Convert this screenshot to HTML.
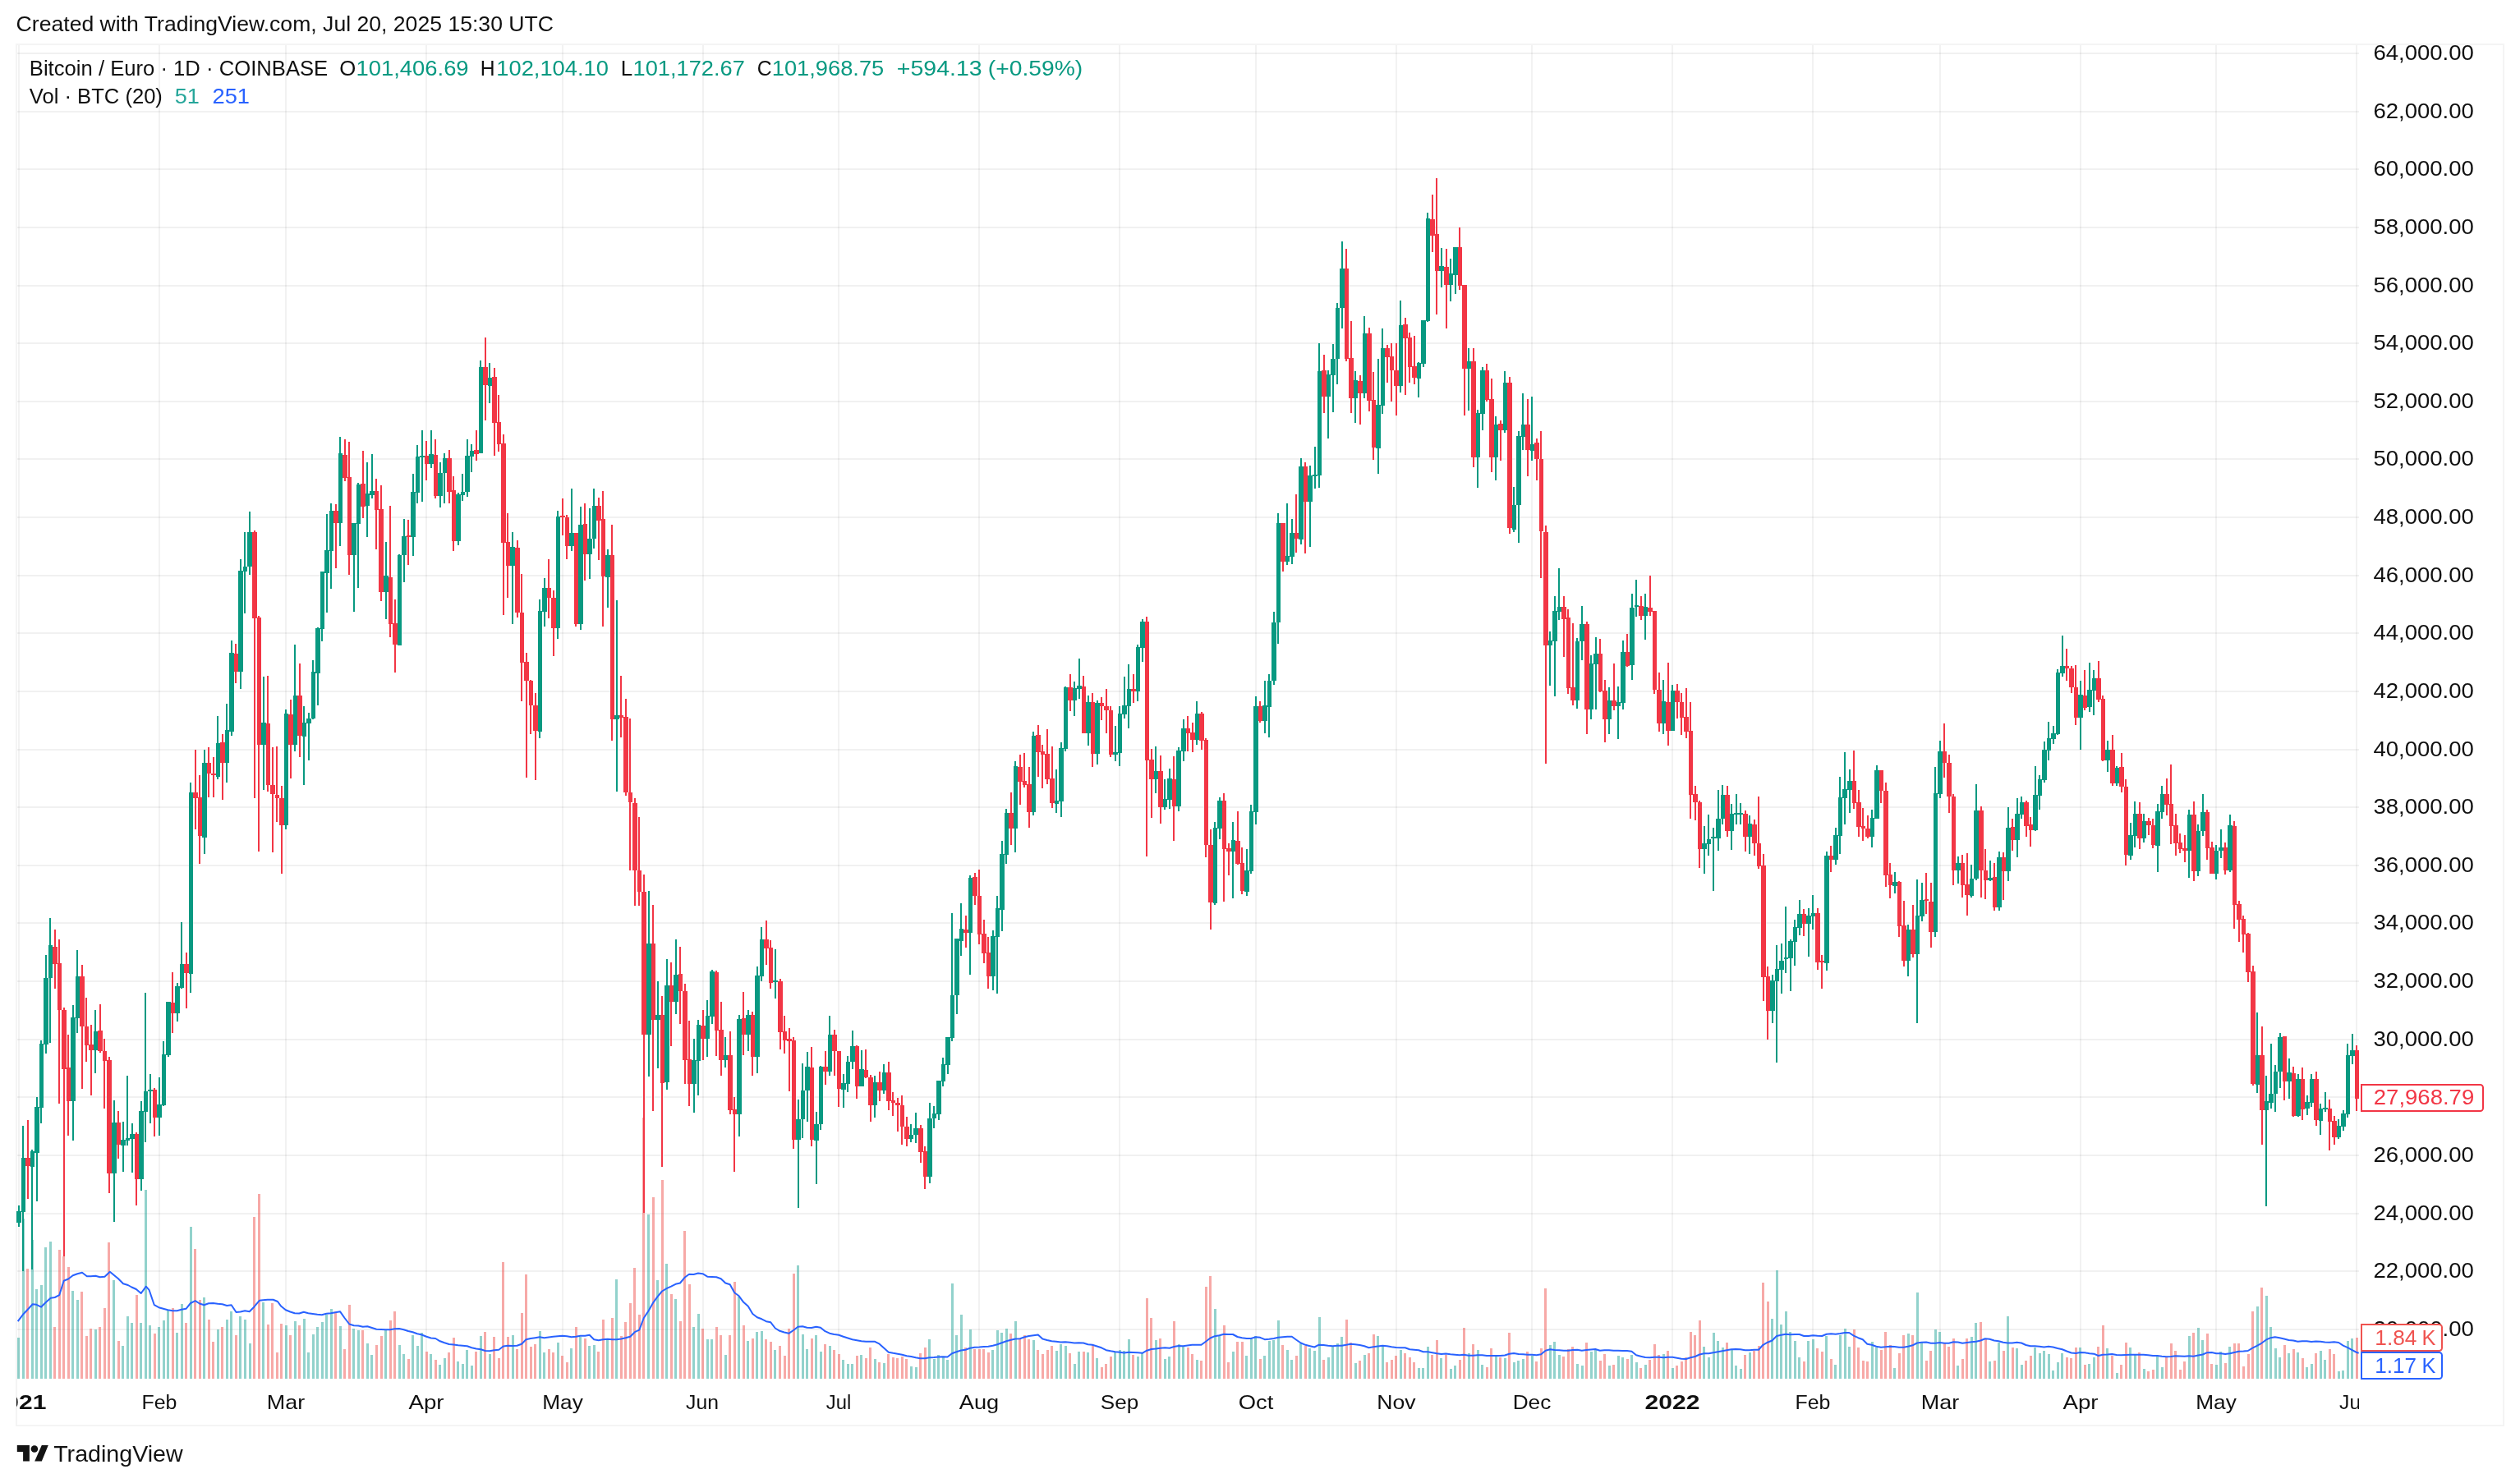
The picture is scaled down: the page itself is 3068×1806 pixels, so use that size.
<!DOCTYPE html>
<html><head><meta charset="utf-8"><title>BTCEUR chart</title><style>html,body{margin:0;padding:0;background:#fff;overflow:hidden}</style></head><body>
<svg width="3068" height="1806" viewBox="0 0 3068 1806" style="display:block;font-family:'Liberation Sans',sans-serif">
<rect width="3068" height="1806" fill="#fff"/>
<defs><clipPath id="cp"><rect x="20" y="54" width="2852" height="1625"/></clipPath><clipPath id="tp"><rect x="20" y="1679" width="2852" height="57"/></clipPath></defs>
<path d="M21 65H2872M21 136H2872M21 206H2872M21 277H2872M21 348H2872M21 418H2872M21 489H2872M21 559H2872M21 630H2872M21 701H2872M21 771H2872M21 842H2872M21 913H2872M21 983H2872M21 1054H2872M21 1124H2872M21 1195H2872M21 1266H2872M21 1336H2872M21 1407H2872M21 1478H2872M21 1548H2872M21 1619H2872" stroke="#000" stroke-opacity="0.056" stroke-width="2" fill="none"/>
<path d="M23 55V1679M194 55V1679M348 55V1679M519 55V1679M685 55V1679M856 55V1679M1021 55V1679M1192 55V1679M1363 55V1679M1529 55V1679M1700 55V1679M1865 55V1679M2036 55V1679M2207 55V1679M2362 55V1679M2533 55V1679M2698 55V1679M2869 55V1679" stroke="#000" stroke-opacity="0.052" stroke-width="2" fill="none"/>
<rect x="20" y="54" width="3028" height="1682" fill="none" stroke="#f4f4f4" stroke-width="2"/>
<g clip-path="url(#cp)">
<path d="M21 1629h3V1679h-3zM27 1484h3V1679h-3zM38 1510h3V1679h-3zM43 1570h3V1679h-3zM49 1565h3V1679h-3zM54 1519h3V1679h-3zM60 1512h3V1679h-3zM87 1572h3V1679h-3zM93 1583h3V1679h-3zM115 1619h3V1679h-3zM137 1559h3V1679h-3zM148 1639h3V1679h-3zM154 1603h3V1679h-3zM159 1611h3V1679h-3zM170 1611h3V1679h-3zM176 1449h3V1679h-3zM181 1614h3V1679h-3zM192 1616h3V1679h-3zM198 1608h3V1679h-3zM203 1596h3V1679h-3zM214 1623h3V1679h-3zM220 1588h3V1679h-3zM231 1494h3V1679h-3zM247 1580h3V1679h-3zM264 1619h3V1679h-3zM275 1607h3V1679h-3zM280 1597h3V1679h-3zM291 1603h3V1679h-3zM297 1607h3V1679h-3zM303 1636h3V1679h-3zM319 1586h3V1679h-3zM347 1614h3V1679h-3zM358 1609h3V1679h-3zM369 1606h3V1679h-3zM374 1647h3V1679h-3zM380 1625h3V1679h-3zM385 1616h3V1679h-3zM391 1610h3V1679h-3zM396 1601h3V1679h-3zM402 1594h3V1679h-3zM413 1615h3V1679h-3zM429 1618h3V1679h-3zM435 1620h3V1679h-3zM446 1636h3V1679h-3zM451 1650h3V1679h-3zM468 1620h3V1679h-3zM485 1638h3V1679h-3zM490 1649h3V1679h-3zM501 1626h3V1679h-3zM507 1639h3V1679h-3zM512 1623h3V1679h-3zM523 1649h3V1679h-3zM534 1662h3V1679h-3zM540 1654h3V1679h-3zM556 1658h3V1679h-3zM562 1661h3V1679h-3zM567 1644h3V1679h-3zM573 1663h3V1679h-3zM584 1627h3V1679h-3zM595 1649h3V1679h-3zM623 1626h3V1679h-3zM656 1621h3V1679h-3zM661 1647h3V1679h-3zM678 1635h3V1679h-3zM694 1642h3V1679h-3zM705 1628h3V1679h-3zM716 1639h3V1679h-3zM722 1638h3V1679h-3zM738 1630h3V1679h-3zM749 1558h3V1679h-3zM788 1479h3V1679h-3zM799 1559h3V1679h-3zM810 1539h3V1679h-3zM821 1582h3V1679h-3zM843 1616h3V1679h-3zM849 1600h3V1679h-3zM860 1631h3V1679h-3zM865 1631h3V1679h-3zM882 1650h3V1679h-3zM898 1579h3V1679h-3zM909 1633h3V1679h-3zM920 1622h3V1679h-3zM926 1621h3V1679h-3zM942 1644h3V1679h-3zM970 1541h3V1679h-3zM976 1625h3V1679h-3zM981 1643h3V1679h-3zM992 1626h3V1679h-3zM998 1646h3V1679h-3zM1009 1639h3V1679h-3zM1025 1656h3V1679h-3zM1031 1661h3V1679h-3zM1036 1661h3V1679h-3zM1047 1650h3V1679h-3zM1064 1655h3V1679h-3zM1075 1660h3V1679h-3zM1108 1664h3V1679h-3zM1114 1665h3V1679h-3zM1130 1631h3V1679h-3zM1136 1655h3V1679h-3zM1141 1650h3V1679h-3zM1147 1652h3V1679h-3zM1152 1656h3V1679h-3zM1158 1563h3V1679h-3zM1163 1626h3V1679h-3zM1169 1601h3V1679h-3zM1180 1619h3V1679h-3zM1207 1644h3V1679h-3zM1213 1620h3V1679h-3zM1218 1623h3V1679h-3zM1224 1618h3V1679h-3zM1235 1609h3V1679h-3zM1257 1632h3V1679h-3zM1285 1645h3V1679h-3zM1290 1637h3V1679h-3zM1296 1639h3V1679h-3zM1307 1661h3V1679h-3zM1312 1646h3V1679h-3zM1323 1647h3V1679h-3zM1334 1654h3V1679h-3zM1356 1647h3V1679h-3zM1362 1644h3V1679h-3zM1367 1645h3V1679h-3zM1373 1631h3V1679h-3zM1384 1652h3V1679h-3zM1389 1648h3V1679h-3zM1406 1632h3V1679h-3zM1417 1655h3V1679h-3zM1422 1652h3V1679h-3zM1434 1637h3V1679h-3zM1439 1640h3V1679h-3zM1456 1656h3V1679h-3zM1478 1594h3V1679h-3zM1483 1627h3V1679h-3zM1500 1646h3V1679h-3zM1516 1651h3V1679h-3zM1522 1631h3V1679h-3zM1527 1627h3V1679h-3zM1538 1651h3V1679h-3zM1544 1633h3V1679h-3zM1549 1632h3V1679h-3zM1555 1608h3V1679h-3zM1566 1644h3V1679h-3zM1571 1656h3V1679h-3zM1582 1636h3V1679h-3zM1593 1642h3V1679h-3zM1599 1645h3V1679h-3zM1605 1604h3V1679h-3zM1616 1653h3V1679h-3zM1621 1640h3V1679h-3zM1627 1636h3V1679h-3zM1632 1628h3V1679h-3zM1649 1660h3V1679h-3zM1660 1650h3V1679h-3zM1676 1627h3V1679h-3zM1682 1640h3V1679h-3zM1704 1644h3V1679h-3zM1726 1666h3V1679h-3zM1731 1666h3V1679h-3zM1737 1640h3V1679h-3zM1753 1654h3V1679h-3zM1765 1667h3V1679h-3zM1770 1663h3V1679h-3zM1787 1648h3V1679h-3zM1798 1644h3V1679h-3zM1803 1662h3V1679h-3zM1820 1652h3V1679h-3zM1831 1654h3V1679h-3zM1842 1659h3V1679h-3zM1847 1657h3V1679h-3zM1853 1655h3V1679h-3zM1864 1651h3V1679h-3zM1886 1638h3V1679h-3zM1891 1634h3V1679h-3zM1897 1650h3V1679h-3zM1919 1661h3V1679h-3zM1925 1663h3V1679h-3zM1936 1646h3V1679h-3zM1941 1644h3V1679h-3zM1958 1663h3V1679h-3zM1969 1651h3V1679h-3zM1974 1653h3V1679h-3zM1985 1650h3V1679h-3zM1991 1659h3V1679h-3zM2002 1662h3V1679h-3zM2024 1649h3V1679h-3zM2035 1666h3V1679h-3zM2073 1640h3V1679h-3zM2079 1653h3V1679h-3zM2085 1623h3V1679h-3zM2090 1633h3V1679h-3zM2096 1641h3V1679h-3zM2107 1644h3V1679h-3zM2112 1663h3V1679h-3zM2118 1667h3V1679h-3zM2129 1647h3V1679h-3zM2156 1606h3V1679h-3zM2162 1547h3V1679h-3zM2167 1613h3V1679h-3zM2173 1597h3V1679h-3zM2178 1622h3V1679h-3zM2184 1633h3V1679h-3zM2189 1653h3V1679h-3zM2200 1633h3V1679h-3zM2206 1631h3V1679h-3zM2222 1627h3V1679h-3zM2233 1662h3V1679h-3zM2239 1626h3V1679h-3zM2245 1618h3V1679h-3zM2250 1640h3V1679h-3zM2278 1634h3V1679h-3zM2283 1641h3V1679h-3zM2305 1666h3V1679h-3zM2322 1624h3V1679h-3zM2333 1574h3V1679h-3zM2338 1635h3V1679h-3zM2355 1619h3V1679h-3zM2360 1622h3V1679h-3zM2382 1663h3V1679h-3zM2399 1628h3V1679h-3zM2404 1611h3V1679h-3zM2421 1658h3V1679h-3zM2432 1635h3V1679h-3zM2443 1603h3V1679h-3zM2454 1642h3V1679h-3zM2460 1662h3V1679h-3zM2476 1641h3V1679h-3zM2482 1648h3V1679h-3zM2487 1645h3V1679h-3zM2493 1649h3V1679h-3zM2498 1669h3V1679h-3zM2504 1659h3V1679h-3zM2509 1648h3V1679h-3zM2531 1641h3V1679h-3zM2542 1661h3V1679h-3zM2548 1653h3V1679h-3zM2564 1642h3V1679h-3zM2576 1672h3V1679h-3zM2592 1641h3V1679h-3zM2598 1650h3V1679h-3zM2609 1667h3V1679h-3zM2625 1652h3V1679h-3zM2631 1665h3V1679h-3zM2664 1627h3V1679h-3zM2675 1617h3V1679h-3zM2680 1632h3V1679h-3zM2697 1662h3V1679h-3zM2702 1646h3V1679h-3zM2713 1640h3V1679h-3zM2747 1591h3V1679h-3zM2758 1578h3V1679h-3zM2763 1616h3V1679h-3zM2769 1642h3V1679h-3zM2774 1653h3V1679h-3zM2785 1648h3V1679h-3zM2796 1647h3V1679h-3zM2807 1665h3V1679h-3zM2813 1661h3V1679h-3zM2824 1645h3V1679h-3zM2829 1656h3V1679h-3zM2846 1670h3V1679h-3zM2851 1669h3V1679h-3zM2857 1633h3V1679h-3zM2862 1630h3V1679h-3z" fill="#26a69a" fill-opacity="0.5"/>
<path d="M32 1545h3V1679h-3zM65 1616h3V1679h-3zM71 1522h3V1679h-3zM76 1530h3V1679h-3zM82 1543h3V1679h-3zM98 1573h3V1679h-3zM104 1627h3V1679h-3zM109 1618h3V1679h-3zM120 1616h3V1679h-3zM126 1593h3V1679h-3zM131 1513h3V1679h-3zM143 1633h3V1679h-3zM165 1577h3V1679h-3zM187 1624h3V1679h-3zM209 1593h3V1679h-3zM225 1611h3V1679h-3zM236 1521h3V1679h-3zM242 1583h3V1679h-3zM253 1607h3V1679h-3zM258 1634h3V1679h-3zM269 1616h3V1679h-3zM286 1626h3V1679h-3zM308 1482h3V1679h-3zM314 1454h3V1679h-3zM325 1613h3V1679h-3zM330 1587h3V1679h-3zM336 1647h3V1679h-3zM341 1612h3V1679h-3zM352 1626h3V1679h-3zM363 1614h3V1679h-3zM407 1597h3V1679h-3zM418 1643h3V1679h-3zM424 1589h3V1679h-3zM440 1620h3V1679h-3zM457 1638h3V1679h-3zM463 1627h3V1679h-3zM474 1608h3V1679h-3zM479 1597h3V1679h-3zM496 1655h3V1679h-3zM518 1646h3V1679h-3zM529 1656h3V1679h-3zM545 1647h3V1679h-3zM551 1629h3V1679h-3zM578 1646h3V1679h-3zM589 1622h3V1679h-3zM600 1628h3V1679h-3zM606 1654h3V1679h-3zM611 1537h3V1679h-3zM617 1628h3V1679h-3zM628 1643h3V1679h-3zM634 1599h3V1679h-3zM639 1552h3V1679h-3zM645 1640h3V1679h-3zM650 1637h3V1679h-3zM667 1643h3V1679h-3zM672 1647h3V1679h-3zM683 1651h3V1679h-3zM689 1659h3V1679h-3zM700 1616h3V1679h-3zM711 1630h3V1679h-3zM727 1646h3V1679h-3zM733 1607h3V1679h-3zM744 1605h3V1679h-3zM755 1627h3V1679h-3zM760 1610h3V1679h-3zM766 1587h3V1679h-3zM771 1544h3V1679h-3zM777 1601h3V1679h-3zM782 1361h3V1679h-3zM794 1458h3V1679h-3zM805 1437h3V1679h-3zM816 1576h3V1679h-3zM827 1609h3V1679h-3zM832 1499h3V1679h-3zM838 1564h3V1679h-3zM854 1618h3V1679h-3zM871 1616h3V1679h-3zM876 1626h3V1679h-3zM887 1626h3V1679h-3zM893 1561h3V1679h-3zM904 1614h3V1679h-3zM915 1630h3V1679h-3zM931 1631h3V1679h-3zM937 1634h3V1679h-3zM948 1639h3V1679h-3zM954 1651h3V1679h-3zM959 1618h3V1679h-3zM965 1551h3V1679h-3zM987 1630h3V1679h-3zM1003 1637h3V1679h-3zM1014 1644h3V1679h-3zM1020 1649h3V1679h-3zM1042 1651h3V1679h-3zM1053 1654h3V1679h-3zM1058 1641h3V1679h-3zM1069 1659h3V1679h-3zM1080 1649h3V1679h-3zM1086 1653h3V1679h-3zM1091 1654h3V1679h-3zM1097 1652h3V1679h-3zM1102 1655h3V1679h-3zM1119 1648h3V1679h-3zM1125 1641h3V1679h-3zM1174 1641h3V1679h-3zM1185 1643h3V1679h-3zM1191 1643h3V1679h-3zM1196 1643h3V1679h-3zM1202 1647h3V1679h-3zM1229 1624h3V1679h-3zM1240 1631h3V1679h-3zM1246 1626h3V1679h-3zM1251 1631h3V1679h-3zM1262 1644h3V1679h-3zM1268 1649h3V1679h-3zM1274 1644h3V1679h-3zM1279 1639h3V1679h-3zM1301 1648h3V1679h-3zM1318 1646h3V1679h-3zM1329 1638h3V1679h-3zM1340 1665h3V1679h-3zM1345 1661h3V1679h-3zM1351 1652h3V1679h-3zM1378 1650h3V1679h-3zM1395 1581h3V1679h-3zM1400 1605h3V1679h-3zM1411 1630h3V1679h-3zM1428 1609h3V1679h-3zM1445 1641h3V1679h-3zM1450 1649h3V1679h-3zM1461 1657h3V1679h-3zM1467 1567h3V1679h-3zM1472 1554h3V1679h-3zM1489 1614h3V1679h-3zM1494 1659h3V1679h-3zM1505 1634h3V1679h-3zM1511 1634h3V1679h-3zM1533 1655h3V1679h-3zM1560 1638h3V1679h-3zM1577 1651h3V1679h-3zM1588 1639h3V1679h-3zM1610 1656h3V1679h-3zM1638 1607h3V1679h-3zM1643 1635h3V1679h-3zM1654 1657h3V1679h-3zM1665 1648h3V1679h-3zM1671 1625h3V1679h-3zM1687 1659h3V1679h-3zM1693 1656h3V1679h-3zM1698 1651h3V1679h-3zM1709 1648h3V1679h-3zM1715 1653h3V1679h-3zM1720 1659h3V1679h-3zM1742 1650h3V1679h-3zM1748 1632h3V1679h-3zM1759 1650h3V1679h-3zM1776 1656h3V1679h-3zM1781 1617h3V1679h-3zM1792 1637h3V1679h-3zM1809 1665h3V1679h-3zM1814 1642h3V1679h-3zM1825 1653h3V1679h-3zM1836 1623h3V1679h-3zM1858 1646h3V1679h-3zM1869 1658h3V1679h-3zM1875 1642h3V1679h-3zM1880 1569h3V1679h-3zM1902 1652h3V1679h-3zM1908 1643h3V1679h-3zM1913 1640h3V1679h-3zM1930 1635h3V1679h-3zM1947 1657h3V1679h-3zM1952 1649h3V1679h-3zM1963 1662h3V1679h-3zM1980 1655h3V1679h-3zM1996 1666h3V1679h-3zM2007 1656h3V1679h-3zM2013 1637h3V1679h-3zM2018 1650h3V1679h-3zM2029 1645h3V1679h-3zM2040 1663h3V1679h-3zM2046 1658h3V1679h-3zM2051 1653h3V1679h-3zM2057 1622h3V1679h-3zM2062 1626h3V1679h-3zM2068 1608h3V1679h-3zM2101 1635h3V1679h-3zM2123 1650h3V1679h-3zM2134 1645h3V1679h-3zM2140 1639h3V1679h-3zM2145 1562h3V1679h-3zM2151 1585h3V1679h-3zM2195 1658h3V1679h-3zM2211 1642h3V1679h-3zM2217 1646h3V1679h-3zM2228 1655h3V1679h-3zM2256 1619h3V1679h-3zM2261 1641h3V1679h-3zM2267 1657h3V1679h-3zM2272 1658h3V1679h-3zM2289 1644h3V1679h-3zM2294 1622h3V1679h-3zM2300 1638h3V1679h-3zM2311 1648h3V1679h-3zM2316 1626h3V1679h-3zM2327 1626h3V1679h-3zM2344 1657h3V1679h-3zM2349 1645h3V1679h-3zM2366 1636h3V1679h-3zM2371 1640h3V1679h-3zM2377 1630h3V1679h-3zM2388 1655h3V1679h-3zM2393 1630h3V1679h-3zM2410 1610h3V1679h-3zM2416 1631h3V1679h-3zM2427 1657h3V1679h-3zM2438 1645h3V1679h-3zM2449 1641h3V1679h-3zM2465 1657h3V1679h-3zM2471 1651h3V1679h-3zM2515 1653h3V1679h-3zM2520 1654h3V1679h-3zM2526 1641h3V1679h-3zM2537 1662h3V1679h-3zM2553 1640h3V1679h-3zM2559 1614h3V1679h-3zM2570 1651h3V1679h-3zM2581 1662h3V1679h-3zM2587 1635h3V1679h-3zM2603 1647h3V1679h-3zM2614 1670h3V1679h-3zM2620 1668h3V1679h-3zM2636 1653h3V1679h-3zM2642 1636h3V1679h-3zM2647 1645h3V1679h-3zM2653 1668h3V1679h-3zM2658 1658h3V1679h-3zM2669 1623h3V1679h-3zM2686 1624h3V1679h-3zM2691 1661h3V1679h-3zM2708 1660h3V1679h-3zM2719 1636h3V1679h-3zM2724 1636h3V1679h-3zM2730 1664h3V1679h-3zM2736 1649h3V1679h-3zM2741 1597h3V1679h-3zM2752 1568h3V1679h-3zM2780 1638h3V1679h-3zM2791 1643h3V1679h-3zM2802 1654h3V1679h-3zM2818 1648h3V1679h-3zM2835 1643h3V1679h-3zM2840 1649h3V1679h-3zM2868 1629h3V1679h-3z" fill="#ef5350" fill-opacity="0.5"/>
<path d="M21.7 1609.2L28 1600.8L33.5 1595L39.7 1588.3L44.5 1588.8L50 1591.7L55.5 1586.3L61.7 1580.8L66.7 1580L72.2 1577.2L77.7 1559.7L83.2 1557.5L88.7 1553.3L94.2 1551.3L100 1549.7L105.8 1554.2L110.7 1554.2L116.2 1553.8L121.7 1555.3L127.5 1554.7L133.8 1548.7L138.3 1552.5L143.8 1557L150 1563.3L155.8 1565L160.3 1567.5L165.8 1570L171.7 1575L177.8 1566.7L181.7 1571.2L187.8 1589.2L193.3 1592.2L198.8 1593.8L204.3 1595.3L210 1596.2L215.5 1596.2L221 1594.7L226.5 1593.8L232 1587L237.8 1584.2L243 1587.5L248.5 1589.2L254 1587.2L259.5 1587L265 1587.8L270.7 1588.3L276.2 1590L281.7 1589.2L287.5 1598L292.7 1597.5L298.2 1596.3L303.7 1597.2L309.2 1591.7L315.8 1583.8L320.2 1583.3L325.7 1582.8L332.5 1582.8L338 1585L342.3 1590.8L347.8 1595.3L353.3 1597.5L358.8 1599.2L364.3 1599.5L369.8 1597.8L375.3 1599.2L380.8 1600L386.3 1600.8L391.8 1601.2L397.3 1599.7L402.8 1599.2L408.3 1598.3L414 1597.2L419.5 1605L425.3 1612.5L430.8 1614.2L436.3 1614.5L441.8 1615.8L447.3 1615.3L452.8 1617L458.3 1618.8L464 1619L469.5 1619.3L475 1619.2L480.5 1618.3L486 1618L491.5 1619.2L497 1621L502.5 1622.2L508 1624.2L513.5 1625.5L519.2 1627.8L524.7 1629.5L530.2 1630L535.7 1633.3L541.2 1635.3L546.7 1637L552.2 1637.5L557.7 1638.3L563.2 1638.8L568.7 1639.2L574.3 1641.2L579.8 1642.5L585.3 1643.3L590.8 1645L596.3 1645.3L601.8 1644.2L607.3 1643.8L612.8 1639.5L618.3 1638.8L623.8 1639L629.5 1638.8L635 1636.7L640.5 1631.2L646 1630L651.5 1629.2L657 1628.3L662.5 1629.2L668 1628.5L673.5 1627.8L679 1627.3L684.7 1626.7L690.2 1627.2L695.7 1628.2L701.2 1627.8L706.7 1626.7L712.2 1626.7L717.7 1625.8L723.2 1631.2L728.7 1632.2L734.2 1631.3L739.8 1630.8L745.3 1631.2L750.8 1631.2L756.3 1630.5L761.8 1629.2L767.3 1627.8L772.8 1622.2L778.3 1619.7L783.8 1605L789.3 1596.7L795 1586.7L800.5 1579.2L806 1572.5L811.5 1569.2L817 1566.7L822.5 1563.8L828 1562.5L833.5 1555.8L839 1551.7L844.5 1552L850 1550.5L855.5 1551.2L861.2 1554.7L866.7 1555L872.2 1555.3L877.7 1557.2L883.2 1562.5L888.7 1564.2L894.2 1574.2L899.7 1578.3L905.2 1585.8L910.8 1590.8L916.3 1600L921.8 1604.2L927.3 1606.3L932.8 1609.2L938.3 1610.3L943.8 1617.5L949.3 1620.8L954.8 1622.5L960.3 1623.8L966 1620L971.5 1615.8L977 1615.3L982.5 1616.7L988 1617L993.5 1615.8L999 1616.7L1004.5 1621.2L1010 1623.7L1015.5 1625L1021.2 1625.8L1026.7 1627.8L1032.2 1629.5L1037.7 1631.3L1043.2 1632.2L1048.7 1633.3L1054.2 1633.7L1059.7 1633.7L1065.2 1633.8L1070.7 1636.7L1076.3 1641.7L1081.8 1646.7L1087.3 1647.8L1092.8 1648.7L1098.3 1649.7L1103.8 1651.2L1109.3 1652L1114.8 1653.3L1120.3 1654.2L1125.8 1654.2L1131.5 1653.3L1137 1653L1142.5 1652.5L1148 1652.2L1153.5 1652.5L1159 1648.3L1164.5 1646.2L1170 1644.5L1175.5 1643.7L1181 1641.7L1186.7 1640.8L1192.2 1640.5L1197.7 1640L1203.2 1639.7L1208.7 1638.8L1214.2 1637.2L1219.7 1635.3L1225.2 1633.3L1230.7 1631.7L1236.2 1630.5L1241.8 1630.3L1247.3 1628.3L1252.8 1627L1258.3 1626.2L1263.8 1625.5L1269.3 1630.5L1274.8 1632L1280.3 1633.3L1285.8 1633.7L1291.5 1634.5L1297 1634.2L1302.5 1634.7L1308 1635.5L1313.5 1635.3L1319 1635.5L1324.5 1637.2L1330 1637.8L1335.5 1639.5L1341 1641.3L1346.7 1644.2L1352.2 1645.3L1357.7 1646.2L1363.2 1646.7L1368.7 1647.5L1374.2 1646.8L1379.7 1647L1385.2 1647.3L1390.7 1647.8L1396.2 1644.7L1401.8 1643L1407.3 1642.5L1412.8 1641.7L1418.3 1641.3L1423.8 1641.7L1429.3 1640L1434.8 1639L1440.3 1639.2L1445.8 1638.5L1451.3 1637.8L1457 1637.7L1462.5 1637.8L1468 1633.7L1473.5 1629.5L1479 1627.2L1484.5 1626.3L1490 1624.7L1495.5 1625L1501 1625L1506.5 1628L1512.2 1629.2L1517.7 1630L1523.2 1630L1528.7 1628.3L1534.2 1628.8L1539.7 1631.2L1545.2 1630.8L1550.7 1630L1556.2 1628.8L1561.7 1628.3L1567.3 1627.8L1572.8 1627.8L1578.3 1631.7L1583.8 1635.5L1589.3 1637.8L1594.8 1639.2L1600.3 1640.5L1605.8 1637.7L1611.3 1638L1616.8 1638.8L1622.5 1639.2L1628 1638.7L1633.5 1638.7L1639 1637.8L1644.5 1636.7L1650 1637.2L1655.5 1638L1661 1639.2L1666.5 1641.2L1672 1640.3L1677.5 1639.5L1683.2 1638.8L1688.7 1639.3L1694.2 1640.3L1699.7 1641L1705.2 1641.2L1710.7 1641.2L1716.2 1643.3L1721.7 1643.7L1727.2 1644.2L1732.7 1646.2L1738.3 1646.3L1743.8 1647.3L1749.3 1648.3L1754.8 1649L1760.3 1648.5L1765.8 1649.2L1771.3 1649.7L1776.8 1650.2L1782.3 1649.8L1787.8 1650.8L1793.5 1650.7L1799 1650.2L1804.5 1650.3L1810 1651L1815.5 1651L1821 1651L1826.5 1651L1832 1650.5L1837.5 1648.7L1843 1648L1848.7 1649L1854.2 1649.2L1859.7 1649.8L1865.2 1649.7L1870.7 1650.3L1876.2 1649.2L1881.7 1644.7L1887.2 1643.3L1892.7 1644L1898.2 1644.2L1903.8 1644.8L1909.3 1644.7L1914.8 1644L1920.3 1643.8L1925.8 1644.7L1931.3 1644L1936.8 1643.5L1942.3 1643L1947.8 1644.7L1953.3 1644.2L1959 1644.3L1964.5 1644.7L1970 1644.8L1975.5 1645L1981 1645L1986.5 1645.8L1992 1650.3L1997.5 1651.7L2003 1653L2008.5 1653.2L2014.2 1652.7L2019.7 1652.8L2025.2 1653.2L2030.7 1652.7L2036.2 1652.8L2041.7 1653.8L2047.2 1654.7L2052.7 1655L2058.2 1653.3L2063.7 1652L2069.2 1649.5L2074.7 1648.3L2080.3 1648.3L2085.8 1647.2L2091.3 1646.2L2096.8 1645.3L2102.3 1644.3L2107.8 1643.2L2113.3 1643L2118.8 1643.3L2124.5 1644.2L2130 1644.2L2135.5 1643.8L2141 1643.7L2146.5 1637.8L2152 1634.7L2157.5 1632.5L2163 1627L2168.5 1625.8L2174 1624.7L2179.7 1625.3L2185.2 1625L2190.7 1625L2196.2 1627L2201.7 1627L2207.2 1626.3L2212.7 1626.8L2218.2 1627L2223.7 1624.8L2229.2 1624.3L2234.8 1624.8L2240.3 1624L2245.8 1623L2251.3 1623L2256.8 1626.7L2262.3 1629.2L2267.8 1631.3L2273.3 1636.7L2278.8 1637.8L2284.3 1639.7L2290 1640.8L2295.5 1640.3L2301 1639.7L2306.5 1640L2312 1640.8L2317.5 1640.7L2323 1639.8L2328.5 1638.3L2334 1635.5L2339.5 1634.7L2345.2 1634.5L2350.7 1635.7L2356.2 1635.8L2361.7 1635L2367.2 1635.8L2372.7 1635.7L2378.2 1634.2L2383.7 1634.5L2389.2 1635.7L2394.7 1635L2400.3 1634.3L2405.8 1633.8L2411.3 1632.5L2416.8 1630.3L2422.3 1630.8L2427.8 1632.5L2433.3 1633.3L2438.8 1634.7L2444.3 1635.5L2449.8 1635.5L2455.5 1634.7L2461 1635.5L2466.5 1638L2472 1639.2L2477.5 1639.3L2483 1639.7L2488.5 1640.5L2494 1639.7L2499.5 1640.5L2505 1642L2510.7 1643.3L2516.2 1645.5L2521.7 1647.5L2527.2 1648L2532.7 1647L2538.2 1647.2L2543.7 1648.3L2549.2 1648.7L2554.7 1651L2560.2 1649.7L2565.8 1649.5L2571.3 1649L2576.8 1650L2582.3 1650.3L2587.8 1650L2593.3 1649.7L2598.8 1649.8L2604.3 1649.7L2609.8 1649.7L2615.3 1650.2L2621 1651L2626.5 1651L2632 1651.7L2637.5 1652.2L2643 1652L2648.5 1651.2L2654 1651.5L2659.5 1651.7L2665 1651.2L2670.5 1651.7L2676.2 1650.5L2681.7 1649.5L2687.2 1647.2L2692.7 1647L2698.2 1648.2L2703.7 1648.3L2709.2 1649L2714.7 1648.3L2720.2 1647L2725.7 1645.8L2731.3 1645.5L2736.8 1645L2742.3 1641.7L2747.8 1638.8L2753.3 1635.8L2758.8 1631.7L2764.3 1629.2L2769.8 1628.3L2775.3 1629.3L2780.8 1630.5L2786.5 1632L2792 1632.5L2797.5 1633.7L2803 1633.3L2808.5 1633.3L2814 1634L2819.5 1633.5L2825 1633.7L2830.5 1634.5L2836 1634.8L2841.7 1634.2L2847.2 1635L2852.7 1638.7L2858.2 1641.2L2863.7 1644.2L2869.2 1647L2871.7 1647.8" fill="none" stroke="#2962FF" stroke-width="2" stroke-linejoin="round"/>
<path d="M22 1468h2V1494h-2zM20 1475H26V1489H20zM27 1371h2V1548h-2zM26 1410H31V1476H26zM38 1400h2V1546h-2zM37 1402H42V1421H37zM44 1336h2V1463h-2zM42 1348H48V1404H42zM49 1267h2V1368h-2zM48 1271H53V1349H48zM55 1163h2V1283h-2zM53 1191H59V1272H53zM60 1118h2V1270h-2zM59 1151H64V1191H59zM88 1224h2V1389h-2zM86 1239H92V1341H86zM93 1157h2V1258h-2zM92 1189H97V1240H92zM115 1230h2V1307h-2zM114 1256H119V1279H114zM138 1340h2V1488h-2zM136 1367H142V1429H136zM149 1366h2V1427h-2zM147 1388H153V1395H147zM154 1310h2V1395h-2zM153 1386H158V1389H153zM160 1368h2V1428h-2zM158 1381H164V1387H158zM171 1341h2V1450h-2zM169 1353H175V1436H169zM176 1209h2V1391h-2zM175 1329H180V1354H175zM182 1308h2V1368h-2zM180 1327H186V1329H180zM193 1312h2V1383h-2zM191 1345H197V1361H191zM198 1268h2V1347h-2zM197 1284H202V1346H197zM204 1220h2V1287h-2zM202 1220H208V1285H202zM215 1197h2V1244h-2zM213 1201H219V1234H213zM220 1123h2V1204h-2zM219 1174H224V1203H219zM231 953h2V1209h-2zM230 965H235V1186H230zM248 913h2V1040h-2zM246 929H252V1020H246zM264 872h2V949h-2zM263 905H268V946H263zM275 857h2V953h-2zM274 889H279V929H274zM281 780h2V896h-2zM279 795H285V891H279zM292 681h2V839h-2zM290 695H296V818H290zM297 648h2V747h-2zM296 690H301V696H296zM303 623h2V700h-2zM301 648H307V690H301zM320 824h2V962h-2zM318 880H324V907H318zM347 864h2V1010h-2zM346 869H351V1005H346zM358 785h2V915h-2zM357 847H362V907H357zM369 860h2V956h-2zM368 880H373V897H368zM375 868h2V926h-2zM373 875H379V881H373zM380 804h2V876h-2zM379 818H384V875H379zM386 764h2V859h-2zM384 765H390V820H384zM391 696h2V781h-2zM390 696H395V766H390zM397 626h2V746h-2zM395 670H401V698H395zM402 613h2V717h-2zM401 622H406V671H401zM413 532h2V665h-2zM412 552H417V637H412zM430 637h2V745h-2zM428 637H434V676H428zM435 588h2V716h-2zM434 590H439V638H434zM446 563h2V654h-2zM445 601H450V616H445zM452 553h2V607h-2zM450 598H456V603H450zM469 660h2V754h-2zM467 701H473V721H467zM485 675h2V786h-2zM484 676H489V786H484zM491 632h2V709h-2zM489 653H495V676H489zM502 577h2V677h-2zM500 599H506V654H500zM507 542h2V613h-2zM506 556H511V600H506zM513 524h2V611h-2zM511 555H517V557H511zM524 524h2V570h-2zM522 553H528V565H522zM535 563h2V618h-2zM533 576H539V604H533zM540 552h2V613h-2zM539 558H544V576H539zM557 600h2V664h-2zM555 602H561V659H555zM562 577h2V610h-2zM561 599H566V603H561zM568 535h2V605h-2zM566 555H572V599H566zM573 541h2V575h-2zM572 549H577V556H572zM584 439h2V552h-2zM583 447H588V552H583zM595 442h2V491h-2zM594 460H599V470H594zM623 648h2V760h-2zM621 666H627V689H621zM656 730h2V899h-2zM655 744H660V891H655zM662 704h2V763h-2zM660 716H666V745H660zM678 622h2V778h-2zM677 629H682V765H677zM695 595h2V671h-2zM693 649H699V665H693zM706 617h2V767h-2zM704 639H710V760H704zM717 619h2V705h-2zM715 656H721V675H715zM722 595h2V668h-2zM721 616H726V656H721zM739 669h2V740h-2zM737 676H743V703H737zM750 731h2V964h-2zM748 871H754V876H748zM789 1085h2V1311h-2zM787 1149H793V1260H787zM800 1195h2V1301h-2zM798 1236H804V1242H798zM811 1168h2V1327h-2zM809 1200H815V1318H809zM822 1144h2V1235h-2zM820 1187H826V1220H820zM844 1265h2V1355h-2zM842 1291H848V1320H842zM849 1242h2V1334h-2zM848 1248H853V1292H848zM860 1218h2V1287h-2zM859 1237H864V1265H859zM866 1181h2V1247h-2zM864 1183H870V1238H864zM882 1263h2V1300h-2zM881 1285H886V1291H881zM899 1236h2V1384h-2zM897 1241H903V1357H897zM910 1230h2V1280h-2zM908 1236H914V1260H908zM921 1177h2V1307h-2zM919 1188H925V1287H919zM926 1129h2V1195h-2zM925 1144H930V1189H925zM943 1156h2V1216h-2zM941 1194H947V1196H941zM971 1339h2V1471h-2zM969 1363H975V1388H969zM976 1295h2V1386h-2zM975 1328H980V1363H975zM982 1281h2V1366h-2zM980 1299H986V1328H980zM993 1354h2V1442h-2zM991 1369H997V1389H991zM998 1298h2V1376h-2zM997 1299H1002V1369H997zM1009 1237h2V1310h-2zM1008 1260H1013V1305H1008zM1026 1308h2V1349h-2zM1024 1319H1030V1327H1024zM1031 1286h2V1330h-2zM1030 1293H1035V1320H1030zM1037 1255h2V1302h-2zM1035 1274H1041V1293H1035zM1048 1279h2V1323h-2zM1046 1302H1052V1323H1046zM1064 1310h2V1361h-2zM1063 1318H1068V1346H1063zM1075 1296h2V1332h-2zM1074 1306H1079V1328H1074zM1108 1369h2V1391h-2zM1107 1382H1112V1387H1107zM1114 1355h2V1392h-2zM1112 1374H1118V1382H1112zM1131 1343h2V1441h-2zM1129 1362H1135V1433H1129zM1136 1347h2V1374h-2zM1135 1356H1140V1362H1135zM1142 1316h2V1364h-2zM1140 1316H1146V1357H1140zM1147 1288h2V1323h-2zM1146 1296H1151V1317H1146zM1153 1263h2V1308h-2zM1151 1263H1157V1297H1151zM1158 1112h2V1268h-2zM1157 1212H1162V1264H1157zM1164 1143h2V1235h-2zM1162 1143H1168V1212H1162zM1169 1100h2V1164h-2zM1168 1131H1173V1146H1168zM1180 1066h2V1187h-2zM1179 1069H1184V1136H1179zM1208 1133h2V1206h-2zM1206 1140H1212V1189H1206zM1213 1091h2V1210h-2zM1212 1106H1217V1141H1212zM1219 1024h2V1134h-2zM1217 1040H1223V1108H1217zM1224 985h2V1052h-2zM1223 990H1228V1041H1223zM1235 927h2V1038h-2zM1234 933H1239V1009H1234zM1257 891h2V993h-2zM1256 896H1261V989H1256zM1285 937h2V990h-2zM1284 975H1289V979H1284zM1291 904h2V995h-2zM1289 911H1295V976H1289zM1296 836h2V915h-2zM1295 837H1300V912H1295zM1307 830h2V872h-2zM1306 838H1311V853H1306zM1313 802h2V851h-2zM1311 835H1317V839H1311zM1324 847h2V908h-2zM1322 855H1328V893H1322zM1335 853h2V931h-2zM1333 856H1339V918H1333zM1357 884h2V927h-2zM1355 916H1361V919H1355zM1362 860h2V933h-2zM1361 869H1366V917H1361zM1368 824h2V875h-2zM1366 859H1372V870H1366zM1373 809h2V887h-2zM1372 839H1377V860H1372zM1384 785h2V854h-2zM1383 788H1388V842H1383zM1390 754h2V806h-2zM1388 757H1394V789H1388zM1406 909h2V966h-2zM1405 939H1410V949H1405zM1417 949h2V986h-2zM1416 973H1421V983H1416zM1423 936h2V985h-2zM1421 948H1427V974H1421zM1434 910h2V988h-2zM1432 914H1438V982H1432zM1440 876h2V927h-2zM1438 887H1444V915H1438zM1456 854h2V907h-2zM1455 869H1460V901H1455zM1478 1001h2V1102h-2zM1477 1008H1482V1100H1477zM1484 971h2V1022h-2zM1482 975H1488V1009H1482zM1500 1001h2V1094h-2zM1499 1023H1504V1037H1499zM1517 1034h2V1091h-2zM1515 1060H1521V1086H1515zM1522 980h2V1064h-2zM1521 988H1526V1061H1521zM1528 848h2V1004h-2zM1526 860H1532V989H1526zM1539 829h2V893h-2zM1537 859H1543V878H1537zM1544 821h2V898h-2zM1543 829H1548V861H1543zM1550 745h2V834h-2zM1548 758H1554V829H1548zM1555 625h2V784h-2zM1554 637H1559V758H1554zM1566 613h2V688h-2zM1565 677H1570V684H1565zM1572 632h2V687h-2zM1570 649H1576V678H1570zM1583 558h2V663h-2zM1581 568H1587V657H1581zM1594 567h2V666h-2zM1592 579H1598V611H1592zM1600 544h2V595h-2zM1598 578H1604V580H1598zM1605 418h2V594h-2zM1604 452H1609V579H1604zM1616 451h2V534h-2zM1615 456H1620V483H1615zM1622 419h2V502h-2zM1620 437H1626V457H1620zM1627 369h2V468h-2zM1626 375H1631V437H1626zM1633 294h2V400h-2zM1631 327H1637V375H1631zM1649 452h2V515h-2zM1648 463H1653V485H1648zM1660 385h2V485h-2zM1659 406H1664V479H1659zM1677 437h2V577h-2zM1675 493H1681V546H1675zM1682 400h2V504h-2zM1681 424H1686V494H1681zM1704 366h2V478h-2zM1703 396H1708V470H1703zM1726 441h2V484h-2zM1725 442H1730V461H1725zM1732 390h2V447h-2zM1730 390H1736V443H1730zM1737 259h2V392h-2zM1736 266H1741V391H1736zM1754 302h2V350h-2zM1752 324H1758V330H1752zM1765 315h2V367h-2zM1764 333H1769V347H1764zM1771 301h2V358h-2zM1769 301H1775V335H1769zM1787 424h2V500h-2zM1786 440H1791V449H1786zM1798 499h2V594h-2zM1797 503H1802V557H1797zM1804 447h2V524h-2zM1802 451H1808V504H1802zM1820 507h2V585h-2zM1819 517H1824V557H1819zM1831 452h2V527h-2zM1830 466H1835V524H1830zM1842 593h2V648h-2zM1841 615H1846V645H1841zM1848 525h2V661h-2zM1846 531H1852V615H1846zM1853 479h2V548h-2zM1852 517H1857V532H1852zM1864 483h2V561h-2zM1863 541H1868V549H1863zM1886 769h2V835h-2zM1885 780H1890V786H1885zM1892 726h2V848h-2zM1890 744H1896V781H1890zM1897 692h2V755h-2zM1896 739H1901V745H1896zM1919 777h2V863h-2zM1918 781H1923V853H1918zM1925 738h2V804h-2zM1923 760H1929V781H1923zM1936 798h2V876h-2zM1935 808H1940V864H1935zM1942 776h2V864h-2zM1940 796H1946V809H1940zM1958 837h2V894h-2zM1957 853H1962V876H1957zM1969 836h2V900h-2zM1968 855H1973V860H1968zM1975 780h2V864h-2zM1973 794H1979V856H1973zM1986 723h2V828h-2zM1984 740H1990V810H1984zM1991 706h2V751h-2zM1990 737H1995V739H1990zM2002 723h2V779h-2zM2001 739H2006V750H2001zM2024 828h2V894h-2zM2023 854H2028V881H2023zM2035 834h2V890h-2zM2034 841H2039V890H2034zM2074 1006h2V1064h-2zM2072 1027H2078V1034H2072zM2079 992h2V1042h-2zM2078 1022H2083V1028H2078zM2085 1008h2V1085h-2zM2083 1019H2089V1021H2083zM2091 962h2V1036h-2zM2089 997H2095V1021H2089zM2096 956h2V1004h-2zM2095 968H2100V997H2095zM2107 979h2V1035h-2zM2106 991H2111V1012H2106zM2113 967h2V1004h-2zM2111 990H2117V992H2111zM2118 978h2V1004h-2zM2117 990H2122V992H2117zM2129 993h2V1040h-2zM2128 1003H2133V1019H2128zM2157 1187h2V1246h-2zM2155 1194H2161V1231H2155zM2162 1151h2V1294h-2zM2161 1180H2166V1195H2161zM2168 1149h2V1210h-2zM2166 1170H2172V1181H2166zM2173 1104h2V1185h-2zM2172 1166H2177V1168H2172zM2179 1144h2V1207h-2zM2177 1146H2183V1167H2177zM2184 1120h2V1176h-2zM2183 1129H2188V1147H2183zM2190 1096h2V1139h-2zM2188 1113H2194V1130H2188zM2201 1106h2V1165h-2zM2199 1115H2205V1125H2199zM2206 1090h2V1132h-2zM2205 1112H2210V1116H2205zM2223 1037h2V1182h-2zM2221 1042H2227V1173H2221zM2234 1008h2V1053h-2zM2232 1017H2238V1047H2232zM2239 946h2V1040h-2zM2238 971H2243V1018H2238zM2245 916h2V1004h-2zM2243 961H2249V972H2243zM2251 937h2V990h-2zM2249 951H2255V962H2249zM2278 986h2V1032h-2zM2277 996H2282V1019H2277zM2284 932h2V997h-2zM2282 938H2288V997H2282zM2306 1062h2V1088h-2zM2304 1074H2310V1079H2304zM2322 1126h2V1189h-2zM2321 1132H2326V1170H2321zM2333 1071h2V1246h-2zM2332 1115H2337V1162H2332zM2339 1075h2V1122h-2zM2337 1096H2343V1116H2337zM2355 934h2V1141h-2zM2354 966H2359V1135H2354zM2361 902h2V972h-2zM2359 915H2365V967H2359zM2383 1043h2V1076h-2zM2381 1051H2387V1060H2381zM2399 1053h2V1093h-2zM2398 1070H2403V1091H2398zM2405 955h2V1072h-2zM2403 987H2409V1070H2403zM2422 1048h2V1073h-2zM2420 1069H2426V1072H2420zM2433 1037h2V1109h-2zM2431 1044H2437V1105H2431zM2444 983h2V1073h-2zM2442 1008H2448V1061H2442zM2455 972h2V1044h-2zM2453 991H2459V1023H2453zM2460 970h2V997h-2zM2459 977H2464V992H2459zM2477 933h2V1012h-2zM2475 968H2481V1011H2475zM2482 944h2V986h-2zM2481 949H2486V969H2481zM2488 903h2V953h-2zM2486 913H2492V950H2486zM2493 879h2V926h-2zM2492 899H2497V914H2492zM2499 884h2V906h-2zM2497 893H2503V900H2497zM2504 815h2V895h-2zM2503 819H2508V894H2503zM2510 774h2V824h-2zM2508 811H2514V820H2508zM2532 829h2V913h-2zM2530 846H2536V874H2530zM2543 807h2V867h-2zM2541 840H2547V861H2541zM2548 816h2V871h-2zM2547 826H2552V841H2547zM2565 902h2V940h-2zM2563 913H2569V926H2563zM2576 933h2V957h-2zM2575 935H2580V954H2575zM2593 1002h2V1047h-2zM2591 1017H2597V1042H2591zM2598 976h2V1032h-2zM2597 991H2602V1018H2597zM2609 991h2V1026h-2zM2608 1000H2613V1021H2608zM2626 979h2V1062h-2zM2624 988H2630V1030H2624zM2631 957h2V997h-2zM2630 967H2635V989H2630zM2664 986h2V1069h-2zM2663 992H2668V1036H2663zM2675 1004h2V1067h-2zM2674 1012H2679V1061H2674zM2681 967h2V1018h-2zM2679 989H2685V1012H2679zM2697 1029h2V1071h-2zM2696 1036H2701V1064H2696zM2703 1010h2V1045h-2zM2701 1032H2707V1036H2701zM2714 992h2V1062h-2zM2712 1005H2718V1060H2712zM2747 1233h2V1331h-2zM2746 1285H2751V1321H2746zM2758 1310h2V1469h-2zM2757 1341H2762V1352H2757zM2764 1271h2V1350h-2zM2762 1332H2768V1343H2762zM2769 1297h2V1354h-2zM2768 1305H2773V1332H2768zM2775 1258h2V1325h-2zM2773 1263H2779V1305H2773zM2786 1289h2V1338h-2zM2784 1306H2790V1317H2784zM2797 1308h2V1360h-2zM2795 1314H2801V1359H2795zM2808 1334h2V1358h-2zM2806 1342H2812V1350H2806zM2813 1308h2V1348h-2zM2812 1314H2817V1343H2812zM2824 1344h2V1382h-2zM2823 1350H2828V1365H2823zM2830 1330h2V1354h-2zM2828 1349H2834V1351H2828zM2846 1363h2V1387h-2zM2845 1371H2850V1385H2845zM2852 1352h2V1377h-2zM2850 1356H2856V1372H2850zM2857 1271h2V1361h-2zM2856 1285H2861V1357H2856zM2863 1259h2V1296h-2zM2861 1279H2867V1286H2861z" fill="#089981"/>
<path d="M33 1364h2V1460h-2zM31 1410H37V1420H31zM66 1132h2V1204h-2zM64 1153H70V1174H64zM71 1144h2V1344h-2zM70 1173H75V1230H70zM77 1227h2V1530h-2zM75 1230H81V1302H75zM82 1260h2V1383h-2zM81 1300H86V1341H81zM99 1175h2V1326h-2zM97 1189H103V1250H97zM104 1215h2V1293h-2zM103 1250H108V1273H103zM110 1248h2V1334h-2zM108 1272H114V1279H108zM121 1223h2V1282h-2zM119 1255H125V1280H119zM126 1265h2V1350h-2zM125 1280H130V1292H125zM132 1287h2V1453h-2zM130 1291H136V1429H130zM143 1353h2V1411h-2zM142 1367H147V1394H142zM165 1379h2V1468h-2zM164 1381H169V1436H164zM187 1325h2V1384h-2zM186 1327H191V1361H186zM209 1184h2V1258h-2zM208 1221H213V1234H208zM226 1160h2V1228h-2zM224 1174H230V1185H224zM237 913h2V1010h-2zM235 965H241V972H235zM242 944h2V1052h-2zM241 971H246V1018H241zM253 910h2V971h-2zM252 929H257V942H252zM259 922h2V971h-2zM257 942H263V944H257zM270 894h2V974h-2zM268 904H274V929H268zM286 784h2V832h-2zM285 796H290V818H285zM309 646h2V972h-2zM307 648H313V753H307zM314 750h2V1037h-2zM313 752H318V907H313zM325 823h2V964h-2zM324 881H329V956H324zM331 910h2V1038h-2zM329 956H335V967H329zM336 909h2V1001h-2zM335 968H340V972H335zM342 957h2V1064h-2zM340 972H346V1005H340zM353 852h2V948h-2zM351 870H357V907H351zM364 808h2V922h-2zM362 847H368V896H362zM408 614h2V692h-2zM406 622H412V637H406zM419 535h2V586h-2zM417 554H423V582H417zM424 538h2V700h-2zM423 581H428V676H423zM441 549h2V631h-2zM439 589H445V617H439zM457 583h2V669h-2zM456 598H461V621H456zM463 591h2V732h-2zM461 620H467V721H461zM474 616h2V776h-2zM473 703H478V760H473zM480 730h2V819h-2zM478 759H484V785H478zM496 633h2V688h-2zM495 652H500V654H495zM518 537h2V585h-2zM517 555H522V565H517zM529 535h2V607h-2zM528 554H533V604H528zM546 548h2V613h-2zM544 558H550V599H544zM551 580h2V671h-2zM550 597H555V659H550zM579 524h2V561h-2zM577 548H583V553H577zM590 411h2V512h-2zM588 447H594V469H588zM601 448h2V555h-2zM599 459H605V515H599zM606 481h2V550h-2zM605 514H610V541H605zM612 529h2V749h-2zM610 540H616V661H610zM617 625h2V728h-2zM616 660H621V689H616zM629 658h2V752h-2zM627 667H633V746H627zM634 699h2V854h-2zM633 746H638V807H633zM640 795h2V947h-2zM638 806H644V829H638zM645 828h2V894h-2zM644 829H649V859H644zM651 844h2V950h-2zM649 859H655V890H649zM667 681h2V753h-2zM666 716H671V728H666zM673 719h2V799h-2zM671 728H677V765H671zM684 607h2V652h-2zM682 628H688V630H682zM689 627h2V681h-2zM688 630H693V665H688zM700 649h2V763h-2zM699 649H704V760H699zM711 613h2V707h-2zM710 638H715V675H710zM728 606h2V682h-2zM726 616H732V634H726zM733 598h2V763h-2zM732 632H737V702H732zM744 639h2V902h-2zM743 676H748V876H743zM755 823h2V898h-2zM754 871H759V874H754zM761 851h2V969h-2zM759 873H765V965H759zM766 875h2V1060h-2zM765 965H770V977H765zM772 972h2V1103h-2zM770 978H776V1060H770zM777 995h2V1103h-2zM776 1060H781V1086H776zM783 1065h2V1477h-2zM781 1086H787V1260H781zM794 1102h2V1353h-2zM793 1149H798V1242H793zM805 1213h2V1421h-2zM804 1236H809V1319H804zM816 1172h2V1274h-2zM815 1200H820V1220H815zM827 1153h2V1247h-2zM826 1186H831V1207H826zM833 1198h2V1320h-2zM831 1207H837V1291H831zM838 1243h2V1347h-2zM837 1290H842V1320H837zM855 1230h2V1291h-2zM853 1249H859V1265H853zM871 1182h2V1286h-2zM870 1184H875V1255H870zM877 1220h2V1310h-2zM875 1254H881V1291H875zM888 1256h2V1357h-2zM886 1285H892V1352H886zM893 1336h2V1427h-2zM892 1351H897V1357H892zM904 1208h2V1285h-2zM903 1240H908V1260H903zM915 1232h2V1310h-2zM914 1236H919V1287H914zM932 1121h2V1175h-2zM930 1144H936V1155H930zM937 1145h2V1204h-2zM936 1154H941V1197H936zM949 1192h2V1278h-2zM947 1195H953V1257H947zM954 1237h2V1283h-2zM953 1256H958V1267H953zM960 1252h2V1329h-2zM958 1265H964V1268H958zM965 1263h2V1399h-2zM964 1267H969V1388H964zM987 1275h2V1396h-2zM986 1300H991V1388H986zM1004 1280h2V1321h-2zM1002 1299H1008V1305H1002zM1015 1254h2V1310h-2zM1013 1260H1019V1280H1013zM1020 1280h2V1348h-2zM1019 1280H1024V1326H1019zM1042 1273h2V1338h-2zM1041 1274H1046V1323H1041zM1053 1278h2V1313h-2zM1052 1303H1057V1312H1052zM1059 1309h2V1366h-2zM1057 1312H1063V1346H1057zM1070 1305h2V1341h-2zM1068 1318H1074V1328H1068zM1081 1293h2V1352h-2zM1079 1306H1085V1341H1079zM1086 1330h2V1359h-2zM1085 1340H1090V1343H1085zM1092 1337h2V1378h-2zM1090 1343H1096V1346H1090zM1097 1334h2V1394h-2zM1096 1346H1101V1372H1096zM1103 1360h2V1396h-2zM1101 1372H1107V1387H1101zM1120 1370h2V1416h-2zM1118 1374H1124V1403H1118zM1125 1396h2V1448h-2zM1124 1402H1129V1433H1124zM1175 1115h2V1154h-2zM1173 1132H1179V1136H1173zM1186 1063h2V1102h-2zM1184 1068H1190V1091H1184zM1191 1059h2V1150h-2zM1190 1091H1195V1138H1190zM1197 1120h2V1173h-2zM1195 1137H1201V1161H1195zM1202 1141h2V1204h-2zM1201 1160H1206V1189H1201zM1230 965h2V1029h-2zM1228 990H1234V1009H1228zM1241 919h2V980h-2zM1239 934H1245V952H1239zM1246 917h2V959h-2zM1245 951H1250V956H1245zM1252 934h2V1008h-2zM1250 955H1256V989H1250zM1263 883h2V946h-2zM1261 895H1267V916H1261zM1268 907h2V960h-2zM1267 915H1272V919H1267zM1274 888h2V955h-2zM1272 918H1278V949H1272zM1280 909h2V984h-2zM1278 948H1284V978H1278zM1302 821h2V866h-2zM1300 837H1306V853H1300zM1318 823h2V893h-2zM1317 836H1322V893H1317zM1329 844h2V934h-2zM1328 855H1333V918H1328zM1340 849h2V877h-2zM1339 856H1344V860H1339zM1346 839h2V893h-2zM1344 860H1350V865H1344zM1351 860h2V922h-2zM1350 865H1355V919H1350zM1379 821h2V856h-2zM1377 839H1383V842H1377zM1395 751h2V1043h-2zM1394 757H1399V926H1394zM1401 912h2V996h-2zM1399 925H1405V949H1399zM1412 920h2V1003h-2zM1410 939H1416V983H1410zM1428 921h2V1024h-2zM1427 949H1432V982H1427zM1445 872h2V915h-2zM1444 887H1449V893H1444zM1451 880h2V916h-2zM1449 892H1455V901H1449zM1462 867h2V913h-2zM1460 869H1466V902H1460zM1467 899h2V1044h-2zM1466 901H1471V1029H1466zM1473 1010h2V1132h-2zM1471 1029H1477V1099H1471zM1489 966h2V1098h-2zM1488 975H1493V1034H1488zM1495 1027h2V1066h-2zM1493 1033H1499V1037H1493zM1506 988h2V1053h-2zM1504 1024H1510V1052H1504zM1511 1032h2V1089h-2zM1510 1051H1515V1085H1510zM1533 854h2V880h-2zM1532 860H1537V878H1532zM1561 637h2V696h-2zM1559 637H1565V684H1559zM1577 602h2V673h-2zM1576 649H1581V656H1576zM1588 563h2V674h-2zM1587 568H1592V611H1587zM1611 432h2V503h-2zM1609 451H1615V483H1609zM1638 303h2V440h-2zM1637 327H1642V437H1637zM1644 391h2V503h-2zM1642 436H1648V485H1642zM1655 457h2V517h-2zM1653 464H1659V479H1653zM1666 399h2V501h-2zM1664 406H1670V488H1664zM1671 453h2V560h-2zM1670 487H1675V545H1670zM1688 420h2V466h-2zM1686 424H1692V435H1686zM1693 418h2V489h-2zM1692 434H1697V451H1692zM1699 418h2V506h-2zM1697 451H1703V470H1697zM1710 387h2V481h-2zM1708 395H1714V412H1708zM1715 405h2V466h-2zM1714 411H1719V447H1714zM1721 409h2V468h-2zM1719 446H1725V460H1719zM1743 237h2V307h-2zM1741 267H1747V287H1741zM1748 217h2V383h-2zM1747 285H1752V330H1747zM1760 303h2V400h-2zM1758 325H1764V347H1758zM1776 277h2V353h-2zM1775 301H1780V348H1775zM1782 347h2V506h-2zM1780 347H1786V449H1780zM1793 424h2V569h-2zM1791 440H1797V557H1791zM1809 443h2V489h-2zM1808 451H1813V487H1808zM1815 461h2V575h-2zM1813 486H1819V557H1813zM1826 512h2V561h-2zM1824 516H1830V524H1824zM1837 459h2V650h-2zM1835 466H1841V643H1835zM1859 486h2V580h-2zM1857 517H1863V548H1857zM1870 534h2V585h-2zM1868 539H1874V559H1868zM1875 525h2V704h-2zM1874 559H1879V647H1874zM1881 640h2V930h-2zM1879 648H1885V786H1879zM1903 726h2V800h-2zM1901 739H1907V754H1901zM1908 742h2V845h-2zM1907 752H1912V838H1907zM1914 759h2V859h-2zM1912 837H1918V853H1912zM1931 757h2V894h-2zM1929 760H1935V864H1929zM1947 778h2V843h-2zM1946 796H1951V842H1946zM1953 828h2V904h-2zM1951 841H1957V876H1951zM1964 808h2V865h-2zM1962 853H1968V860H1962zM1980 772h2V812h-2zM1979 794H1984V811H1979zM1997 726h2V755h-2zM1995 738H2001V750H1995zM2008 701h2V750h-2zM2006 740H2012V745H2006zM2013 744h2V845h-2zM2012 744H2017V840H2012zM2019 819h2V891h-2zM2017 840H2023V881H2017zM2030 807h2V908h-2zM2028 855H2034V890H2028zM2041 833h2V875h-2zM2039 841H2045V855H2039zM2046 844h2V895h-2zM2045 855H2050V874H2045zM2052 838h2V899h-2zM2050 873H2056V891H2050zM2057 855h2V997h-2zM2056 890H2061V968H2056zM2063 957h2V999h-2zM2061 967H2067V977H2061zM2068 975h2V1057h-2zM2067 977H2072V1034H2067zM2102 957h2V1019h-2zM2100 968H2106V1012H2100zM2124 987h2V1037h-2zM2122 991H2128V1019H2122zM2135 998h2V1042h-2zM2133 1004H2139V1027H2133zM2140 970h2V1058h-2zM2139 1027H2144V1055H2139zM2146 1040h2V1219h-2zM2144 1054H2150V1190H2144zM2151 1177h2V1266h-2zM2150 1189H2155V1231H2150zM2195 1107h2V1140h-2zM2194 1113H2199V1125H2194zM2212 1106h2V1181h-2zM2210 1112H2216V1172H2210zM2217 1163h2V1204h-2zM2216 1170H2221V1172H2216zM2228 1030h2V1062h-2zM2227 1042H2232V1047H2227zM2256 914h2V985h-2zM2255 951H2260V978H2255zM2262 962h2V1019h-2zM2260 977H2266V1007H2260zM2267 984h2V1024h-2zM2266 1006H2271V1009H2266zM2273 993h2V1021h-2zM2271 1009H2277V1019H2271zM2289 938h2V978h-2zM2288 938H2293V963H2288zM2295 953h2V1080h-2zM2293 963H2299V1066H2293zM2300 1051h2V1094h-2zM2299 1065H2304V1078H2299zM2311 1073h2V1141h-2zM2310 1074H2315V1128H2310zM2317 1097h2V1177h-2zM2315 1127H2321V1170H2315zM2328 1102h2V1166h-2zM2326 1132H2332V1162H2326zM2344 1063h2V1113h-2zM2343 1095H2348V1097H2343zM2350 1075h2V1154h-2zM2348 1098H2354V1135H2348zM2366 881h2V947h-2zM2365 915H2370V929H2365zM2372 919h2V990h-2zM2370 929H2376V970H2370zM2377 967h2V1078h-2zM2376 970H2381V1060H2376zM2388 1041h2V1093h-2zM2387 1051H2392V1078H2387zM2394 1039h2V1115h-2zM2392 1077H2398V1090H2392zM2411 982h2V1093h-2zM2409 987H2415V1060H2409zM2416 1034h2V1095h-2zM2415 1060H2420V1072H2415zM2427 1051h2V1109h-2zM2426 1068H2431V1105H2426zM2438 1038h2V1096h-2zM2437 1044H2442V1061H2437zM2449 997h2V1036h-2zM2448 1007H2453V1023H2448zM2466 975h2V1019h-2zM2464 977H2470V1006H2464zM2471 995h2V1031h-2zM2470 1004H2475V1011H2470zM2515 790h2V829h-2zM2514 811H2519V814H2514zM2521 811h2V844h-2zM2519 814H2525V837H2519zM2526 810h2V883h-2zM2525 837H2530V874H2525zM2537 816h2V865h-2zM2536 847H2541V862H2536zM2554 805h2V855h-2zM2552 826H2558V852H2552zM2559 847h2V927h-2zM2558 851H2563V926H2558zM2571 895h2V957h-2zM2569 913H2575V954H2569zM2582 917h2V965h-2zM2580 934H2586V958H2580zM2587 949h2V1054h-2zM2586 958H2591V1041H2586zM2604 977h2V1034h-2zM2602 991H2608V1021H2602zM2615 996h2V1017h-2zM2613 1000H2619V1005H2613zM2620 997h2V1033h-2zM2619 1005H2624V1029H2619zM2637 948h2V993h-2zM2635 967H2641V980H2635zM2642 931h2V1028h-2zM2641 979H2646V1006H2641zM2648 991h2V1042h-2zM2646 1005H2652V1027H2646zM2653 1015h2V1039h-2zM2652 1026H2657V1034H2652zM2659 1017h2V1050h-2zM2657 1033H2663V1036H2657zM2670 976h2V1073h-2zM2668 992H2674V1061H2668zM2686 986h2V1047h-2zM2685 989H2690V1033H2685zM2692 1025h2V1064h-2zM2690 1032H2696V1064H2690zM2708 1026h2V1065h-2zM2707 1032H2712V1060H2707zM2719 1000h2V1131h-2zM2718 1006H2723V1102H2718zM2725 1097h2V1147h-2zM2723 1101H2729V1120H2723zM2730 1115h2V1160h-2zM2729 1119H2734V1138H2729zM2736 1136h2V1196h-2zM2734 1137H2740V1184H2734zM2742 1176h2V1322h-2zM2740 1183H2746V1320H2740zM2753 1250h2V1394h-2zM2751 1285H2757V1352H2751zM2780 1262h2V1340h-2zM2779 1262H2784V1317H2779zM2791 1299h2V1360h-2zM2790 1307H2795V1359H2790zM2802 1300h2V1364h-2zM2801 1314H2806V1351H2801zM2819 1305h2V1371h-2zM2817 1314H2823V1364H2817zM2835 1339h2V1401h-2zM2834 1350H2839V1366H2834zM2841 1359h2V1394h-2zM2839 1365H2845V1385H2839zM2868 1273h2V1353h-2zM2867 1279H2872V1338H2867z" fill="#F23645"/>
</g>
<g opacity="0.999">
<text x="19.6" y="38" font-size="26" fill="#101010" textLength="654.4" lengthAdjust="spacingAndGlyphs">Created with TradingView.com, Jul 20, 2025 15:30 UTC</text>
<text x="35.8" y="91.8" font-size="25.4" fill="#101010" textLength="363.4" lengthAdjust="spacingAndGlyphs">Bitcoin / Euro · 1D · COINBASE</text>
<text x="413.2" y="91.8" font-size="25.4" fill="#101010" textLength="20" lengthAdjust="spacingAndGlyphs">O</text>
<text x="433.5" y="91.8" font-size="25.4" fill="#089981" textLength="137.1" lengthAdjust="spacingAndGlyphs">101,406.69</text>
<text x="584.8" y="91.8" font-size="25.4" fill="#101010" textLength="17.8" lengthAdjust="spacingAndGlyphs">H</text>
<text x="604.3" y="91.8" font-size="25.4" fill="#089981" textLength="136.6" lengthAdjust="spacingAndGlyphs">102,104.10</text>
<text x="755.8" y="91.8" font-size="25.4" fill="#101010" textLength="14.4" lengthAdjust="spacingAndGlyphs">L</text>
<text x="770.5" y="91.8" font-size="25.4" fill="#089981" textLength="136.3" lengthAdjust="spacingAndGlyphs">101,172.67</text>
<text x="921.8" y="91.8" font-size="25.4" fill="#101010" textLength="17.9" lengthAdjust="spacingAndGlyphs">C</text>
<text x="939.8" y="91.8" font-size="25.4" fill="#089981" textLength="136.4" lengthAdjust="spacingAndGlyphs">101,968.75</text>
<text x="1091.8" y="91.8" font-size="25.4" fill="#089981" textLength="103.8" lengthAdjust="spacingAndGlyphs">+594.13</text>
<text x="1202.8" y="91.8" font-size="25.4" fill="#089981" textLength="115.4" lengthAdjust="spacingAndGlyphs">(+0.59%)</text>
<text x="35.8" y="125.6" font-size="25.4" fill="#101010" textLength="162.1" lengthAdjust="spacingAndGlyphs">Vol · BTC (20)</text>
<text x="212.7" y="125.6" font-size="25.4" fill="#26a69a" textLength="30.2" lengthAdjust="spacingAndGlyphs">51</text>
<text x="258.5" y="125.6" font-size="25.4" fill="#2962FF" textLength="45.5" lengthAdjust="spacingAndGlyphs">251</text>
<text x="2889.4" y="72.6" font-size="25" fill="#101010" textLength="122.5" lengthAdjust="spacingAndGlyphs">64,000.00</text>
<text x="2889.4" y="143.6" font-size="25" fill="#101010" textLength="122.5" lengthAdjust="spacingAndGlyphs">62,000.00</text>
<text x="2889.4" y="213.6" font-size="25" fill="#101010" textLength="122.5" lengthAdjust="spacingAndGlyphs">60,000.00</text>
<text x="2889.4" y="284.6" font-size="25" fill="#101010" textLength="122.5" lengthAdjust="spacingAndGlyphs">58,000.00</text>
<text x="2889.4" y="355.6" font-size="25" fill="#101010" textLength="122.5" lengthAdjust="spacingAndGlyphs">56,000.00</text>
<text x="2889.4" y="425.6" font-size="25" fill="#101010" textLength="122.5" lengthAdjust="spacingAndGlyphs">54,000.00</text>
<text x="2889.4" y="496.6" font-size="25" fill="#101010" textLength="122.5" lengthAdjust="spacingAndGlyphs">52,000.00</text>
<text x="2889.4" y="566.6" font-size="25" fill="#101010" textLength="122.5" lengthAdjust="spacingAndGlyphs">50,000.00</text>
<text x="2889.4" y="637.6" font-size="25" fill="#101010" textLength="122.5" lengthAdjust="spacingAndGlyphs">48,000.00</text>
<text x="2889.4" y="708.6" font-size="25" fill="#101010" textLength="122.5" lengthAdjust="spacingAndGlyphs">46,000.00</text>
<text x="2889.4" y="778.6" font-size="25" fill="#101010" textLength="122.5" lengthAdjust="spacingAndGlyphs">44,000.00</text>
<text x="2889.4" y="849.6" font-size="25" fill="#101010" textLength="122.5" lengthAdjust="spacingAndGlyphs">42,000.00</text>
<text x="2889.4" y="920.6" font-size="25" fill="#101010" textLength="122.5" lengthAdjust="spacingAndGlyphs">40,000.00</text>
<text x="2889.4" y="990.6" font-size="25" fill="#101010" textLength="122.5" lengthAdjust="spacingAndGlyphs">38,000.00</text>
<text x="2889.4" y="1061.6" font-size="25" fill="#101010" textLength="122.5" lengthAdjust="spacingAndGlyphs">36,000.00</text>
<text x="2889.4" y="1131.6" font-size="25" fill="#101010" textLength="122.5" lengthAdjust="spacingAndGlyphs">34,000.00</text>
<text x="2889.4" y="1202.6" font-size="25" fill="#101010" textLength="122.5" lengthAdjust="spacingAndGlyphs">32,000.00</text>
<text x="2889.4" y="1273.6" font-size="25" fill="#101010" textLength="122.5" lengthAdjust="spacingAndGlyphs">30,000.00</text>
<text x="2889.4" y="1343.6" font-size="25" fill="#101010" textLength="122.5" lengthAdjust="spacingAndGlyphs">28,000.00</text>
<text x="2889.4" y="1414.6" font-size="25" fill="#101010" textLength="122.5" lengthAdjust="spacingAndGlyphs">26,000.00</text>
<text x="2889.4" y="1485.6" font-size="25" fill="#101010" textLength="122.5" lengthAdjust="spacingAndGlyphs">24,000.00</text>
<text x="2889.4" y="1555.6" font-size="25" fill="#101010" textLength="122.5" lengthAdjust="spacingAndGlyphs">22,000.00</text>
<text x="2889.4" y="1626.6" font-size="25" fill="#101010" textLength="122.5" lengthAdjust="spacingAndGlyphs">20,000.00</text>
<path d="M2875 1321H3019.5a3.5 3.5 0 0 1 3.5 3.5V1349.5a3.5 3.5 0 0 1 -3.5 3.5H2875z" fill="#fff" stroke="#F23645" stroke-width="2"/>
<text x="2889.8" y="1345.3" font-size="25" fill="#F23645" textLength="122.4" lengthAdjust="spacingAndGlyphs">27,968.79</text>
<path d="M2875 1613H2969.5a3.5 3.5 0 0 1 3.5 3.5V1641.5a3.5 3.5 0 0 1 -3.5 3.5H2875z" fill="#fff" stroke="#ef5350" stroke-width="2"/>
<text x="2891.3" y="1637.8" font-size="25" fill="#ef5350" textLength="51.1" lengthAdjust="spacingAndGlyphs">1.84</text>
<text x="2948.5" y="1637.8" font-size="25" fill="#ef5350" textLength="16.9" lengthAdjust="spacingAndGlyphs">K</text>
<path d="M2875 1647H2969.5a3.5 3.5 0 0 1 3.5 3.5V1675.5a3.5 3.5 0 0 1 -3.5 3.5H2875z" fill="#fff" stroke="#2962FF" stroke-width="2"/>
<text x="2891.3" y="1671.9" font-size="25" fill="#2962FF" textLength="50.8" lengthAdjust="spacingAndGlyphs">1.17</text>
<text x="2948.5" y="1671.9" font-size="25" fill="#2962FF" textLength="16.9" lengthAdjust="spacingAndGlyphs">K</text>
<g clip-path="url(#tp)">
<text x="23" y="1716" font-size="24.4" fill="#101010" font-weight="bold" text-anchor="middle" textLength="66.8" lengthAdjust="spacingAndGlyphs">2021</text>
<text x="194" y="1716" font-size="24.4" fill="#101010" text-anchor="middle" textLength="42.9" lengthAdjust="spacingAndGlyphs">Feb</text>
<text x="348" y="1716" font-size="24.4" fill="#101010" text-anchor="middle" textLength="46.4" lengthAdjust="spacingAndGlyphs">Mar</text>
<text x="519" y="1716" font-size="24.4" fill="#101010" text-anchor="middle" textLength="43.1" lengthAdjust="spacingAndGlyphs">Apr</text>
<text x="685" y="1716" font-size="24.4" fill="#101010" text-anchor="middle" textLength="49.6" lengthAdjust="spacingAndGlyphs">May</text>
<text x="855" y="1716" font-size="24.4" fill="#101010" text-anchor="middle" textLength="39.8" lengthAdjust="spacingAndGlyphs">Jun</text>
<text x="1021" y="1716" font-size="24.4" fill="#101010" text-anchor="middle" textLength="30.5" lengthAdjust="spacingAndGlyphs">Jul</text>
<text x="1192" y="1716" font-size="24.4" fill="#101010" text-anchor="middle" textLength="48.4" lengthAdjust="spacingAndGlyphs">Aug</text>
<text x="1363" y="1716" font-size="24.4" fill="#101010" text-anchor="middle" textLength="46.4" lengthAdjust="spacingAndGlyphs">Sep</text>
<text x="1529" y="1716" font-size="24.4" fill="#101010" text-anchor="middle" textLength="42.6" lengthAdjust="spacingAndGlyphs">Oct</text>
<text x="1700" y="1716" font-size="24.4" fill="#101010" text-anchor="middle" textLength="47.3" lengthAdjust="spacingAndGlyphs">Nov</text>
<text x="1865" y="1716" font-size="24.4" fill="#101010" text-anchor="middle" textLength="46.7" lengthAdjust="spacingAndGlyphs">Dec</text>
<text x="2036" y="1716" font-size="24.4" fill="#101010" font-weight="bold" text-anchor="middle" textLength="66.8" lengthAdjust="spacingAndGlyphs">2022</text>
<text x="2207" y="1716" font-size="24.4" fill="#101010" text-anchor="middle" textLength="42.9" lengthAdjust="spacingAndGlyphs">Feb</text>
<text x="2362" y="1716" font-size="24.4" fill="#101010" text-anchor="middle" textLength="46.4" lengthAdjust="spacingAndGlyphs">Mar</text>
<text x="2533" y="1716" font-size="24.4" fill="#101010" text-anchor="middle" textLength="43.1" lengthAdjust="spacingAndGlyphs">Apr</text>
<text x="2698" y="1716" font-size="24.4" fill="#101010" text-anchor="middle" textLength="49.6" lengthAdjust="spacingAndGlyphs">May</text>
<text x="2868" y="1716" font-size="24.4" fill="#101010" text-anchor="middle" textLength="39.8" lengthAdjust="spacingAndGlyphs">Jun</text>
</g>
<path d="M20.8 1760H35.9V1779.5H28.1V1767.9H20.8zM50.8 1760H58.8L50.8 1779.5H42.2z" fill="#131313"/><circle cx="41.9" cy="1764.5" r="4.3" fill="#131313"/>
<text x="65.2" y="1779.5" font-size="28.3" fill="#131313" textLength="157.5" lengthAdjust="spacingAndGlyphs">TradingView</text>
</g>
</svg>
</body></html>
